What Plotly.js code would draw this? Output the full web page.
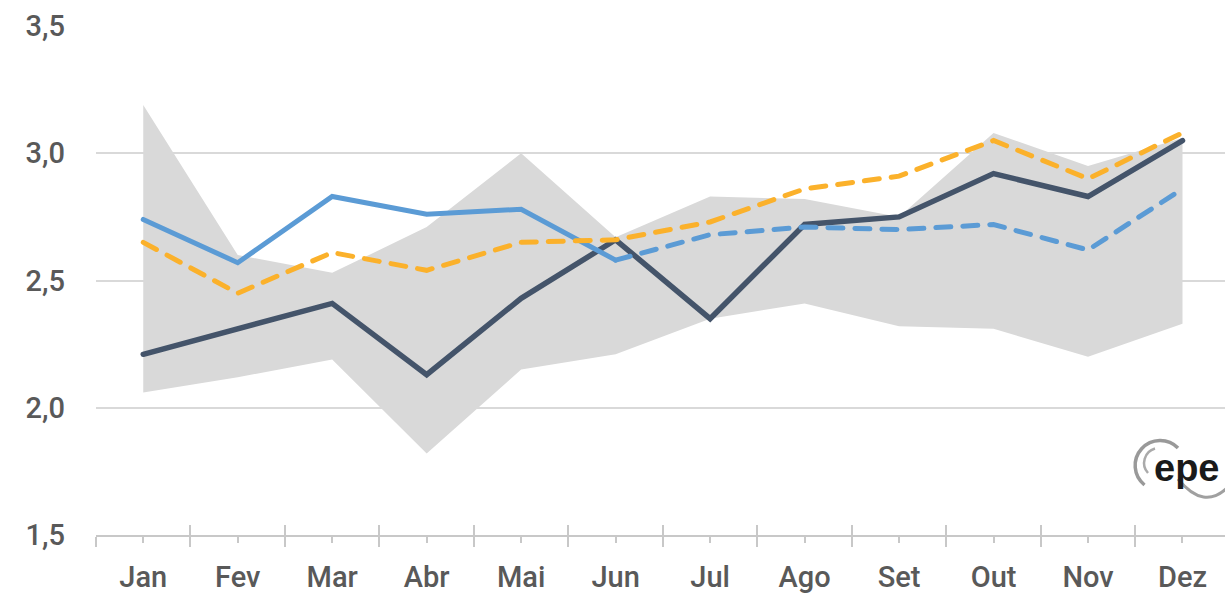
<!DOCTYPE html>
<html>
<head>
<meta charset="utf-8">
<script src="https://cdn.plot.ly/plotly-3.0.1.min.js"></script>
<style>
html,body{margin:0;padding:0;background:#fff;}
#chart{width:1225px;height:593px;}
.scatterlayer .js-line{stroke-linecap:round;}
</style>
</head>
<body>
<div id="chart"></div>
<script>
// ---- data ----
const months = ['Jan','Fev','Mar','Abr','Mai','Jun','Jul','Ago','Set','Out','Nov','Dez'];
const bandLow  = [2.06, 2.12, 2.19, 1.82, 2.15, 2.21, 2.35, 2.41, 2.32, 2.31, 2.20, 2.33];
const bandHigh = [3.19, 2.60, 2.53, 2.71, 3.00, 2.67, 2.83, 2.82, 2.75, 3.08, 2.95, 3.06];
const realized = [2.21, 2.31, 2.41, 2.13, 2.43, 2.66, 2.35, 2.72, 2.75, 2.92, 2.83, 3.05];
const blueSolid = [2.74, 2.57, 2.83, 2.76, 2.78, 2.58, null, null, null, null, null, null];
const blueDash  = [null, null, null, null, null, 2.58, 2.68, 2.71, 2.70, 2.72, 2.62, 2.86];
const orangeDash = [2.65, 2.45, 2.61, 2.54, 2.65, 2.66, 2.73, 2.86, 2.91, 3.05, 2.90, 3.08];
const yTicks = [1.5, 2.0, 2.5, 3.0, 3.5];

const txt = '#595959';
const axisGrey = '#C8C8C8';
const font = {family: 'Roboto, "Open Sans", sans-serif', size: 29, color: txt, weight: 500};

const traces = [
  {x: months, y: bandLow, type: 'scatter', mode: 'lines', line: {width: 0, color: '#D9D9D9'}, hoverinfo: 'skip', showlegend: false},
  {x: months, y: bandHigh, type: 'scatter', mode: 'lines', fill: 'tonexty', fillcolor: '#D9D9D9', line: {width: 0, color: '#D9D9D9'}, hoverinfo: 'skip', showlegend: false},
  {x: months, y: realized, type: 'scatter', mode: 'lines', line: {color: '#44546A', width: 5.5}, showlegend: false},
  {x: months, y: blueSolid, type: 'scatter', mode: 'lines', line: {color: '#5B9BD5', width: 5}, showlegend: false},
  {x: months, y: blueDash, type: 'scatter', mode: 'lines', line: {color: '#5B9BD5', width: 5, dash: '15px,12px'}, showlegend: false},
  {x: months, y: orangeDash, type: 'scatter', mode: 'lines', line: {color: '#FBB12B', width: 5, dash: '15px,12px'}, showlegend: false},
  // dummy traces to carry the extra tick axes
  {x: months, y: months.map(() => null), xaxis: 'x2', yaxis: 'y', type: 'scatter', mode: 'lines', hoverinfo: 'skip', showlegend: false},
  {x: months, y: months.map(() => null), xaxis: 'x3', yaxis: 'y', type: 'scatter', mode: 'lines', hoverinfo: 'skip', showlegend: false}
];

const L = 96, T = 26, B = 58, W = 1225, H = 593;
const pw = W - L, ph = H - T - B;
const px = x => (x - L) / pw;
const py = y => (H - B - y) / ph;

const logoSvg =
  '<svg xmlns="http://www.w3.org/2000/svg" width="105" height="80" viewBox="0 0 105 80">' +
  '<path d="M 24.5 50 A 25 25 0 1 1 58 13" fill="none" stroke="#999999" stroke-width="3.5"/>' +
  '<path d="M 28 38 A 15 15 0 0 1 35 13.5" fill="none" stroke="#aaaaaa" stroke-width="2.5"/>' +
  '<path d="M 58 44 Q 84 76 108 52" fill="none" stroke="#a0a0a0" stroke-width="3"/>' +
  '</svg>';

const layout = {
  width: W, height: H,
  margin: {l: L, r: 0, t: T, b: B, pad: 0},
  paper_bgcolor: '#fff', plot_bgcolor: '#fff',
  separators: ',.',
  showlegend: false,
  font: font,
  xaxis: {
    type: 'category', categoryorder: 'array', categoryarray: months,
    range: [-0.5, 11.45], fixedrange: true,
    tickson: 'boundaries', ticks: 'outside', ticklen: 10, tickwidth: 2, tickcolor: axisGrey,
    showline: true, linecolor: axisGrey, linewidth: 2,
    showgrid: false, zeroline: false,
    tickfont: font, ticklabelstandoff: 15
  },
  xaxis2: {
    type: 'category', categoryorder: 'array', categoryarray: months,
    overlaying: 'x', matches: 'x', anchor: 'y', side: 'bottom',
    tickson: 'boundaries', ticks: 'inside', ticklen: 10, tickwidth: 2, tickcolor: axisGrey,
    showticklabels: false, showline: false, showgrid: false, zeroline: false
  },
  xaxis3: {
    type: 'category', categoryorder: 'array', categoryarray: months,
    overlaying: 'x', matches: 'x', anchor: 'y', side: 'bottom',
    ticks: 'outside', ticklen: 7, tickwidth: 2, tickcolor: axisGrey,
    showticklabels: false, showline: false, showgrid: false, zeroline: false
  },
  yaxis: {
    range: [1.5, 3.5], fixedrange: true,
    tickmode: 'array', tickvals: yTicks, tickformat: '.1f',
    showgrid: true, gridcolor: '#D9D9D9', gridwidth: 2,
    zeroline: false, showline: false, ticks: '',
    tickfont: font, ticklabelstandoff: 30
  },
  images: [{
    source: 'data:image/svg+xml;utf8,' + encodeURIComponent(logoSvg),
    xref: 'paper', yref: 'paper',
    x: px(1120), y: py(435), sizex: 105 / pw, sizey: 80 / ph,
    xanchor: 'left', yanchor: 'top', sizing: 'stretch', layer: 'above'
  }],
  annotations: [{
    text: 'epe', xref: 'paper', yref: 'paper',
    x: px(1186), y: py(468), xanchor: 'center', yanchor: 'middle',
    showarrow: false,
    font: {family: '"Liberation Sans", Arial, sans-serif', size: 38, color: '#1a1a1a', weight: 700}
  }]
};

Plotly.newPlot('chart', traces, layout, {staticPlot: true, displayModeBar: false});
</script>
</body>
</html>
